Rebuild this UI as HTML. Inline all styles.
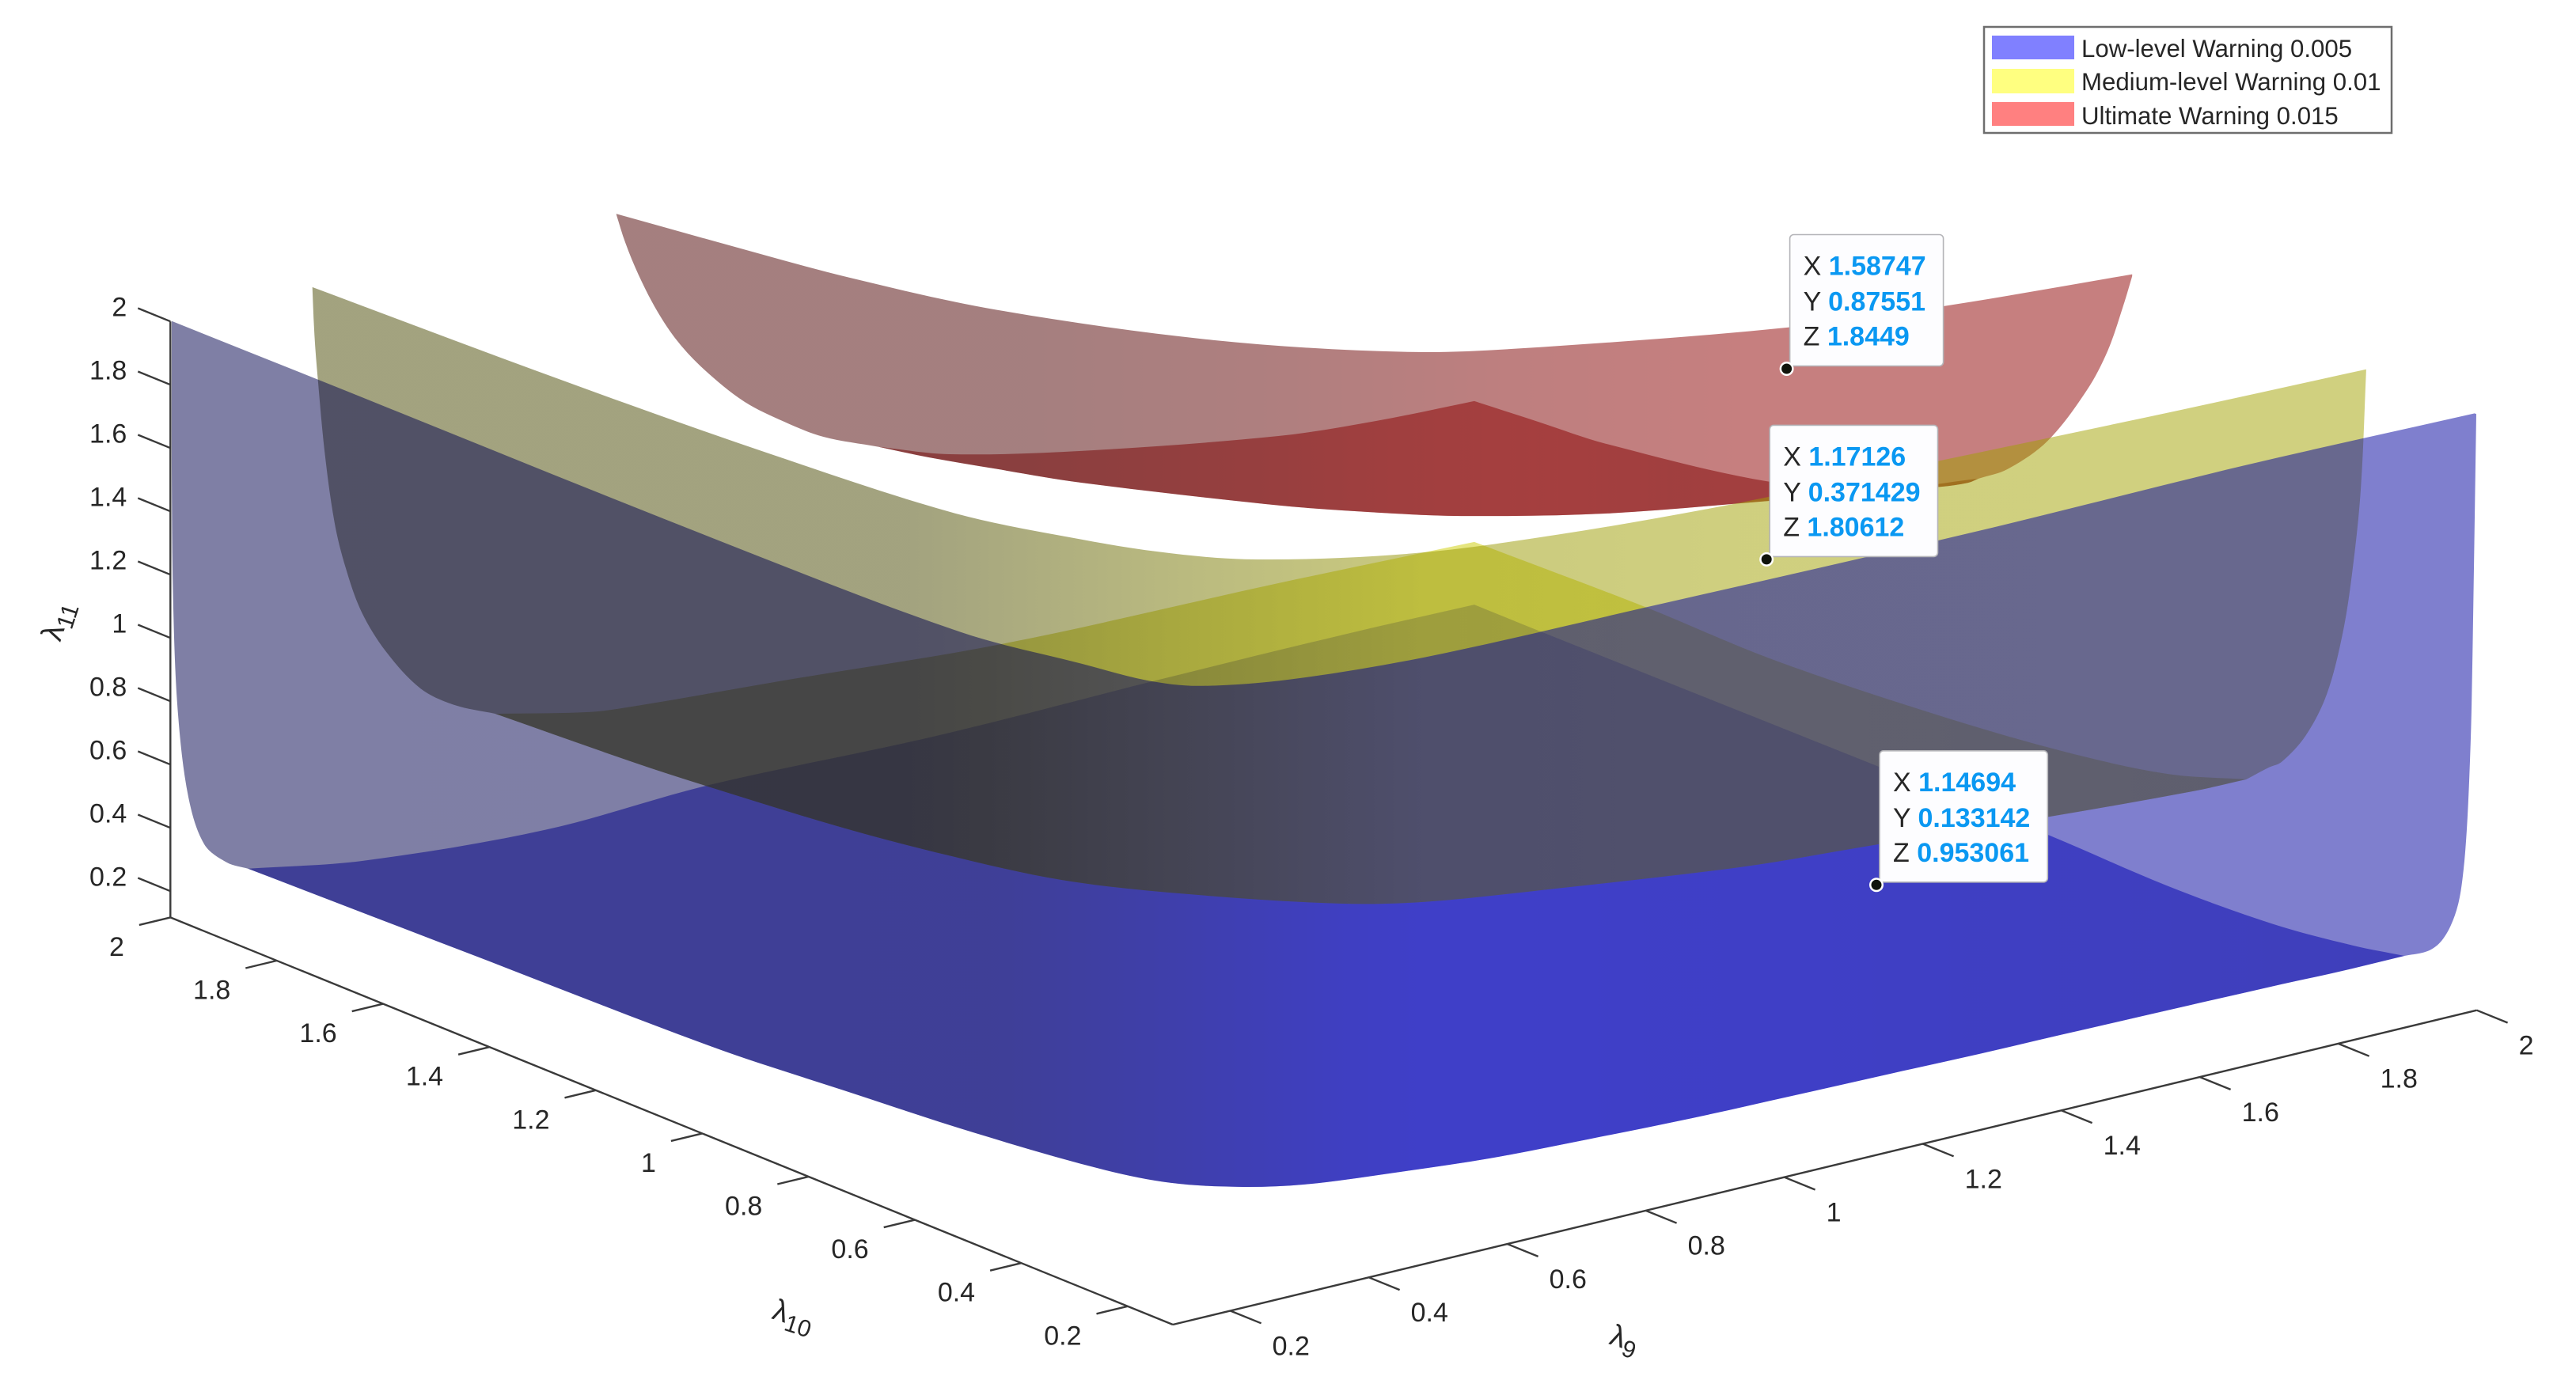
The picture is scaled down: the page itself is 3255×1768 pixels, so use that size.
<!DOCTYPE html>
<html lang="en">
<head>
<meta charset="utf-8">
<title>Warning surfaces over λ9, λ10, λ11</title>
<style>
  html, body { margin: 0; padding: 0; background: #fff; }
  svg { display: block; }
  text { font-family: "Liberation Sans", sans-serif; fill: #262626; }
</style>
</head>
<body>
<svg id="chart" xmlns="http://www.w3.org/2000/svg" width="3255" height="1768" viewBox="0 0 3255 1768">
  <defs>
    <linearGradient id="gBlueWall" gradientUnits="userSpaceOnUse" x1="0" y1="0" x2="3255" y2="0">
      <stop offset="0" stop-color="rgb(0,0,75)"/><stop offset=".384" stop-color="rgb(0,0,78)"/><stop offset=".461" stop-color="rgb(0,0,110)"/><stop offset=".553" stop-color="rgb(0,0,155)"/><stop offset="1" stop-color="rgb(0,0,158)"/>
    </linearGradient>
    <linearGradient id="gBlueFloor" gradientUnits="userSpaceOnUse" x1="0" y1="0" x2="3255" y2="0">
      <stop offset="0" stop-color="rgb(0,0,194)"/><stop offset=".399" stop-color="rgb(0,0,194)"/><stop offset=".522" stop-color="rgb(0,0,240)"/><stop offset=".707" stop-color="rgb(0,0,225)"/><stop offset=".952" stop-color="rgb(0,0,170)"/>
    </linearGradient>
    <linearGradient id="gYellowWall" gradientUnits="userSpaceOnUse" x1="0" y1="0" x2="3255" y2="0">
      <stop offset="0" stop-color="rgb(71,71,0)"/><stop offset=".353" stop-color="rgb(71,71,0)"/><stop offset=".461" stop-color="rgb(118,118,0)"/><stop offset=".553" stop-color="rgb(150,150,0)"/><stop offset=".676" stop-color="rgb(160,160,0)"/><stop offset="1" stop-color="rgb(161,161,0)"/>
    </linearGradient>
    <linearGradient id="gYellowFloor" gradientUnits="userSpaceOnUse" x1="0" y1="0" x2="3255" y2="0">
      <stop offset="0" stop-color="rgb(165,165,0)"/><stop offset=".338" stop-color="rgb(165,165,0)"/><stop offset=".553" stop-color="rgb(205,205,0)"/><stop offset=".891" stop-color="rgb(180,180,0)"/>
    </linearGradient>
    <linearGradient id="gRedWall" gradientUnits="userSpaceOnUse" x1="0" y1="0" x2="3255" y2="0">
      <stop offset="0" stop-color="rgb(75,0,0)"/><stop offset=".399" stop-color="rgb(75,0,0)"/><stop offset=".492" stop-color="rgb(95,0,0)"/><stop offset=".584" stop-color="rgb(125,0,0)"/><stop offset=".676" stop-color="rgb(141,0,0)"/><stop offset="1" stop-color="rgb(141,0,0)"/>
    </linearGradient>
    <linearGradient id="gRedFloor" gradientUnits="userSpaceOnUse" x1="0" y1="0" x2="3255" y2="0">
      <stop offset="0" stop-color="rgb(150,0,0)"/><stop offset=".399" stop-color="rgb(150,0,0)"/><stop offset=".53" stop-color="rgb(165,0,0)"/><stop offset=".6" stop-color="rgb(150,0,0)"/><stop offset=".65" stop-color="rgb(115,0,0)"/><stop offset=".768" stop-color="rgb(105,0,0)"/>
    </linearGradient>
  </defs>

  <g id="axes"></g>
  <g id="surfaces"></g>

  <text transform="translate(76,812) rotate(-72)" font-size="38">λ<tspan font-size="30" dy="9">11</tspan></text>
  <text transform="translate(974,1666) rotate(18)" font-size="38">λ<tspan font-size="30" dy="9">10</tspan></text>
  <text transform="translate(2032,1698) rotate(18)" font-size="38">λ<tspan font-size="30" dy="9">9</tspan></text>

  <g id="tips"></g>

  <g>
    <rect x="2507" y="34" width="515" height="134" fill="#fff" stroke="#6e6e6e" stroke-width="2.5"/>
    <rect x="2517" y="45" width="104" height="30" fill="#8080ff"/>
    <text x="2630" y="72" font-size="31.2">Low-level Warning 0.005</text>
    <rect x="2517" y="87" width="104" height="31" fill="#ffff80"/>
    <text x="2630" y="114" font-size="31.2">Medium-level Warning 0.01</text>
    <rect x="2517" y="129" width="104" height="30" fill="#ff8080"/>
    <text x="2630" y="157" font-size="31.2">Ultimate Warning 0.015</text>
  </g>
</svg>

<script>
// ---- axis limits and ticks ----
const xMin = 0.117, xMax = 2;
const yMin = 0.115, yMax = 2;
const zMin = 0.117, zMax = 2;
const xTicks = [0.2, 0.4, 0.6, 0.8, 1, 1.2, 1.4, 1.6, 1.8, 2];
const yTicks = [0.2, 0.4, 0.6, 0.8, 1, 1.2, 1.4, 1.6, 1.8, 2];
const zTicks = [0.2, 0.4, 0.6, 0.8, 1, 1.2, 1.4, 1.6, 1.8, 2];

// ---- low-level warning surface (0.005) ----
const blueLeftX = [0.119, 0.119, 0.121, 0.128, 0.143, 0.166, 0.199, 0.229];
const blueLeftZ = [1.997, 1.532, 1.111, 0.755, 0.484, 0.322, 0.247, 0.212];
const blueFrontX = [0.229, 0.229, 0.229, 0.229, 0.229, 0.229, 0.229, 0.315, 0.41, 0.533, 0.68, 0.825, 0.971, 1.116, 1.263, 1.385, 1.504, 1.823, 1.899, 2];
const blueFrontY = [2, 1.573, 1.127, 0.88, 0.633, 0.387, 0.264, 0.251, 0.251, 0.251, 0.251, 0.251, 0.251, 0.251, 0.251, 0.251, 0.251, 0.251, 0.251, 0.251];
const blueFrontZ = [0.212, 0.228, 0.245, 0.276, 0.31, 0.36, 0.404, 0.355, 0.312, 0.282, 0.253, 0.238, 0.226, 0.22, 0.215, 0.21, 0.208, 0.2, 0.196, 0.196];
const blueRightY = [0.251, 0.208, 0.184, 0.164, 0.149, 0.14, 0.134, 0.129, 0.125, 0.12, 0.116];
const blueRightZ = [0.196, 0.24, 0.284, 0.351, 0.436, 0.542, 0.671, 0.842, 1.052, 1.555, 2];
const blueTopX = [0.119, 0.121, 0.125, 0.14, 0.179, 0.201, 0.236, 0.332, 0.504, 0.815, 1.288, 1.672, 2];
const blueTopY = [2, 1.727, 0.992, 0.544, 0.368, 0.274, 0.221, 0.176, 0.146, 0.136, 0.125, 0.129, 0.119];
const blueFarLeftX = [0.229, 0.396, 0.658, 0.895, 1.223, 1.545, 1.81, 2];
const blueFarLeftZ = [0.212, 0.149, 0.108, 0.125, 0.107, 0.115, 0.117, 0.112];
const blueFarRightY = [2, 1.876, 1.235, 0.918, 0.698, 0.497, 0.347, 0.251];
const blueFarRightZ = [0.112, 0.112, 0.119, 0.121, 0.113, 0.128, 0.163, 0.196];

// ---- medium-level warning surface (0.01) ----
const yellowLeftX = [0.322, 0.325, 0.33, 0.34, 0.354, 0.37, 0.393, 0.428, 0.478, 0.527, 0.586];
const yellowLeftZ = [2, 1.849, 1.703, 1.466, 1.24, 1.089, 0.937, 0.794, 0.65, 0.572, 0.513];
const yellowFrontX = [0.586, 0.586, 0.586, 0.586, 0.586, 0.586, 0.586, 0.691, 0.813, 0.985, 1.27, 1.47, 1.716, 1.924, 2];
const yellowFrontY = [2, 1.741, 1.609, 1.362, 1.171, 0.935, 0.698, 0.548, 0.548, 0.548, 0.548, 0.548, 0.548, 0.548, 0.548];
const yellowFrontZ = [0.513, 0.537, 0.555, 0.596, 0.641, 0.715, 0.832, 0.849, 0.79, 0.737, 0.659, 0.626, 0.583, 0.554, 0.551];
const yellowRightY = [0.548, 0.506, 0.482, 0.437, 0.397, 0.367, 0.348, 0.333, 0.323];
const yellowRightZ = [0.551, 0.617, 0.651, 0.764, 0.923, 1.137, 1.357, 1.617, 1.992];
const yellowTopX = [0.322, 0.341, 0.365, 0.4, 0.456, 0.499, 0.56, 0.686, 0.82, 1.088, 1.412, 1.738, 2];
const yellowTopY = [2, 1.55, 1.195, 0.893, 0.729, 0.638, 0.557, 0.474, 0.426, 0.379, 0.356, 0.335, 0.323];
const yellowFarLeftX = [0.586, 0.724, 0.785, 1.004, 1.322, 1.717, 2];
const yellowFarLeftZ = [0.513, 0.446, 0.431, 0.398, 0.347, 0.329, 0.31];
const yellowFarRightY = [2, 1.678, 1.445, 1.147, 0.897, 0.698, 0.548];
const yellowFarRightZ = [0.31, 0.324, 0.321, 0.355, 0.403, 0.466, 0.551];

// ---- ultimate warning surface (0.015) ----
const redLeftX = [0.761, 0.774, 0.793, 0.82, 0.85, 0.888, 0.945, 1.003, 1.06, 1.14];
const redLeftZ = [1.998, 1.902, 1.791, 1.662, 1.549, 1.441, 1.311, 1.216, 1.138, 1.064];
const redFrontX = [1.14, 1.14, 1.14, 1.14, 1.14, 1.14, 1.253, 1.461, 1.698, 1.946, 1.985, 2];
const redFrontY = [2, 1.906, 1.777, 1.619, 1.249, 1.063, 1.052, 1.052, 1.052, 1.052, 1.052, 1.052];
const redFrontZ = [1.064, 1.095, 1.146, 1.211, 1.392, 1.496, 1.433, 1.331, 1.246, 1.16, 1.152, 1.157];
const redRightY = [1.052, 0.997, 0.922, 0.848, 0.809, 0.78, 0.763];
const redRightZ = [1.157, 1.225, 1.365, 1.576, 1.727, 1.887, 1.994];
const redTopX = [0.761, 0.79, 0.83, 0.892, 1.02, 1.171, 1.301, 1.571, 1.759, 2];
const redTopY = [2, 1.847, 1.652, 1.454, 1.216, 1.044, 0.966, 0.849, 0.802, 0.763];
const redFarLeftX = [1.14, 1.242, 1.432, 1.717, 1.858, 2];
const redFarLeftZ = [1.064, 0.987, 0.897, 0.794, 0.767, 0.755];
const redFarRightY = [2, 1.876, 1.753, 1.445, 1.231, 1.052];
const redFarRightZ = [0.755, 0.772, 0.789, 0.879, 1.002, 1.157];

// ---- data tips ----
const tipX = [1.58747, 1.17126, 1.14694];
const tipY = [0.87551, 0.371429, 0.133142];
const tipZ = [1.8449, 1.80612, 0.953061];

// ---- orthographic axis functions ----
function screenX(x, y) {
  return 1482 + 875 * (x - xMin) - 672 * (y - yMin);
}
function screenY(x, y, z) {
  return 1674 - 211 * (x - xMin) - 273 * (y - yMin) - 400 * (z - zMin);
}

const NS = 'http://www.w3.org/2000/svg';
function make(tag, attrs, parent) {
  const el = document.createElementNS(NS, tag);
  for (const k in attrs) el.setAttribute(k, attrs[k]);
  parent.appendChild(el);
  return el;
}

// Build screen points from data arrays; a plain number is a fixed coordinate.
function curve(xs, ys, zs) {
  const n = Math.max(xs.length || 0, ys.length || 0, zs.length || 0);
  const out = [];
  for (let i = 0; i < n; i++) {
    const x = Array.isArray(xs) ? xs[i] : xs;
    const y = Array.isArray(ys) ? ys[i] : ys;
    const z = Array.isArray(zs) ? zs[i] : zs;
    out.push([screenX(x, y), screenY(x, y, z)]);
  }
  return out;
}

function dist(a, b) { return Math.hypot(a[0] - b[0], a[1] - b[1]) || 1; }
// Unit-speed tangent at point i, using chord lengths so uneven spacing does not wobble.
function tangent(p, i) {
  const a = p[Math.max(i - 1, 0)], b = p[Math.min(i + 1, p.length - 1)];
  const len = (i > 0 ? dist(p[i - 1], p[i]) : 0) + (i < p.length - 1 ? dist(p[i], p[i + 1]) : 0);
  return [(b[0] - a[0]) / len, (b[1] - a[1]) / len];
}
// Smooth spline through one curve, appended to a path string.
function spline(p) {
  let d = '';
  for (let i = 0; i < p.length - 1; i++) {
    const seg = dist(p[i], p[i + 1]) / 3;
    const t1 = tangent(p, i), t2 = tangent(p, i + 1);
    const c1x = p[i][0] + t1[0] * seg, c1y = p[i][1] + t1[1] * seg;
    const c2x = p[i + 1][0] - t2[0] * seg, c2y = p[i + 1][1] - t2[1] * seg;
    d += 'C' + c1x.toFixed(1) + ' ' + c1y.toFixed(1) + ' ' + c2x.toFixed(1) + ' ' + c2y.toFixed(1) + ' ' + p[i + 1][0].toFixed(1) + ' ' + p[i + 1][1].toFixed(1);
  }
  return d;
}
function outline(curves) {
  let d = 'M' + curves[0][0][0].toFixed(1) + ' ' + curves[0][0][1].toFixed(1);
  curves.forEach(function (c, i) {
    if (i > 0) d += 'L' + c[0][0].toFixed(1) + ' ' + c[0][1].toFixed(1);
    d += spline(c);
  });
  return d + 'Z';
}
function rev(c) { return c.slice().reverse(); }

// ---- surfaces ----
const surfaces = document.getElementById('surfaces');

const blueWallCurves = [curve(blueLeftX, yMax, blueLeftZ), curve(blueFrontX, blueFrontY, blueFrontZ), curve(xMax, blueRightY, blueRightZ), rev(curve(blueTopX, blueTopY, zMax))];
const blueFloorCurves = [curve(blueFarLeftX, yMax, blueFarLeftZ), curve(xMax, blueFarRightY, blueFarRightZ), rev(curve(blueFrontX, blueFrontY, blueFrontZ))];
const yellowWallCurves = [curve(yellowLeftX, yMax, yellowLeftZ), curve(yellowFrontX, yellowFrontY, yellowFrontZ), curve(xMax, yellowRightY, yellowRightZ), rev(curve(yellowTopX, yellowTopY, zMax))];
const yellowFloorCurves = [curve(yellowFarLeftX, yMax, yellowFarLeftZ), curve(xMax, yellowFarRightY, yellowFarRightZ), rev(curve(yellowFrontX, yellowFrontY, yellowFrontZ))];
const redWallCurves = [curve(redLeftX, yMax, redLeftZ), curve(redFrontX, redFrontY, redFrontZ), curve(xMax, redRightY, redRightZ), rev(curve(redTopX, redTopY, zMax))];
const redFloorCurves = [curve(redFarLeftX, yMax, redFarLeftZ), curve(xMax, redFarRightY, redFarRightZ), rev(curve(redFrontX, redFrontY, redFrontZ))];

const blueFloorPath = make('path', { d: outline(blueFloorCurves), fill: 'url(#gBlueFloor)', 'fill-opacity': 0.5 }, surfaces);


const yellowFloorPath = make('path', { d: outline(yellowFloorCurves), fill: 'url(#gYellowFloor)', 'fill-opacity': 0.5 }, surfaces);


const redFloorPath = make('path', { d: outline(redFloorCurves), fill: 'url(#gRedFloor)', 'fill-opacity': 0.5 }, surfaces);


const redWallPath = make('path', { d: outline(redWallCurves), fill: 'url(#gRedWall)', 'fill-opacity': 0.5 }, surfaces);


const yellowWallPath = make('path', { d: outline(yellowWallCurves), fill: 'url(#gYellowWall)', 'fill-opacity': 0.5 }, surfaces);


const blueWallPath = make('path', { d: outline(blueWallCurves), fill: 'url(#gBlueWall)', 'fill-opacity': 0.5 }, surfaces);



// ---- axes ----
const axes = document.getElementById('axes');
const axisStyle = { stroke: '#3a3a3a', 'stroke-width': 2.4, fill: 'none' };

function axisLine(x1, y1, z1, x2, y2, z2) {
  return make('line', Object.assign({
    x1: screenX(x1, y1).toFixed(1), y1: screenY(x1, y1, z1).toFixed(1),
    x2: screenX(x2, y2).toFixed(1), y2: screenY(x2, y2, z2).toFixed(1)
  }, axisStyle), axes);
}
function tickText(px, py, anchor, label) {
  const t = make('text', { x: px.toFixed(1), y: py.toFixed(1), 'text-anchor': anchor, 'font-size': 34 }, axes);
  t.textContent = label;
  return t;
}

const zAxisLine = axisLine(xMin, yMax, zMin, xMin, yMax, zMax);


const yAxisLine = axisLine(xMin, yMin, zMin, xMin, yMax, zMin);


const xAxisLine = axisLine(xMin, yMin, zMin, xMax, yMin, zMin);



zTicks.forEach(function (v) {
  const tick = axisLine(xMin, yMax, v, xMin, yMax + 0.061, v);
  
  
  const label = tickText(screenX(xMin, yMax + 0.061) - 14, screenY(xMin, yMax + 0.061, v) + 10, 'end', String(v));
  
  
});
yTicks.forEach(function (v) {
  const tick = axisLine(xMin, v, zMin, xMin - 0.045, v, zMin);
  
  
  const label = tickText(screenX(xMin - 0.045, v) - 19, screenY(xMin - 0.045, v, zMin) + 39, 'end', String(v));
  
  
});
xTicks.forEach(function (v) {
  const tick = axisLine(v, yMin, zMin, v, yMin - 0.058, zMin);
  
  
  const label = tickText(screenX(v, yMin - 0.058) + 14, screenY(v, yMin - 0.058, zMin) + 40, 'start', String(v));
  
  
});

// ---- data tips ----
const tips = document.getElementById('tips');
const tipHeight = 166;
tipX.forEach(function (vx, i) {
  const vy = tipY[i], vz = tipZ[i];
  const mx = screenX(vx, vy), my = screenY(vx, vy, vz) + 1;
  const group = make('g', {}, tips);
  
  

  const left = mx + 4, top = my - 3.5 - tipHeight;
  const box = make('rect', { x: left.toFixed(1), y: top.toFixed(1), height: tipHeight, width: 200, rx: 5, ry: 5, fill: '#fdfdff', stroke: '#b4b4b8', 'stroke-width': 1.6 }, group);
  
  

  let widest = 0;
  [['X', vx, 51], ['Y', vy, 96], ['Z', vz, 140]].forEach(function (row) {
    const line = make('text', { x: (left + 17).toFixed(1), y: (top + row[2]).toFixed(1), 'font-size': 34 }, group);
    
    
    const key = make('tspan', {}, line);
    key.textContent = row[0] + ' ';
    const val = make('tspan', { 'font-weight': 'bold', style: 'fill:#0a98f2' }, line);
    val.textContent = String(row[1]);
    widest = Math.max(widest, line.getComputedTextLength());
  });
  box.setAttribute('width', (widest + 39).toFixed(1));

  const ring = make('circle', { cx: mx.toFixed(1), cy: my.toFixed(1), r: 9, fill: '#fff' }, group);
  
  
  const dot = make('circle', { cx: mx.toFixed(1), cy: my.toFixed(1), r: 6.5, fill: '#10140c' }, group);
  
  
});
</script>
</body>
</html>
